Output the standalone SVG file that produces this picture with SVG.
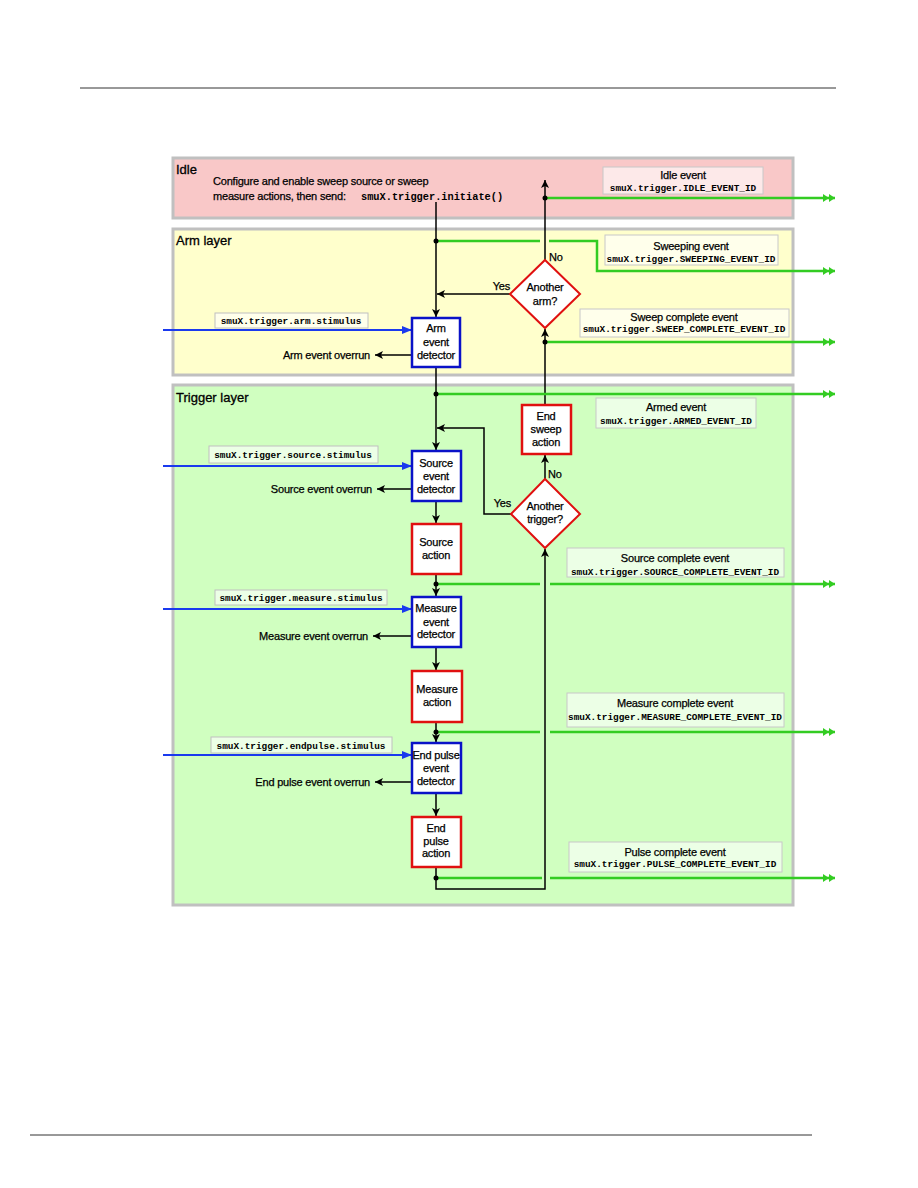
<svg xmlns="http://www.w3.org/2000/svg" width="918" height="1188" viewBox="0 0 918 1188">
<style>
.t{font-family:"Liberation Sans",Arial,sans-serif;font-size:11px;fill:#000;stroke:#000;stroke-width:0.25px;letter-spacing:-0.2px}
.c{text-anchor:middle}
.e{text-anchor:end}
.h{font-family:"Liberation Sans",Arial,sans-serif;font-size:13px;fill:#000;stroke:#000;stroke-width:0.3px}
.m{font-family:"Liberation Mono","Courier New",monospace;font-size:9.4px;font-weight:bold;fill:#000}
.panel{stroke:#c0c0c0;stroke-width:3}
.ev{fill:#fff;fill-opacity:0.6;stroke:#c8c8c8;stroke-width:1}
.lb{fill:#fff;fill-opacity:0.6;stroke:#c0c0c0;stroke-width:1}
.det{fill:#fff;stroke:#0a12c8;stroke-width:2.5}
.act{fill:#fff;stroke:#e01010;stroke-width:2.5}
.blk{fill:none;stroke:#000;stroke-width:1.5}
.grn{fill:none;stroke:#33cc22;stroke-width:2.5}
.blu{fill:none;stroke:#1a3aee;stroke-width:2}
</style>
<defs>
<marker id="ab" viewBox="0 0 8 8" refX="8" refY="4" markerWidth="8" markerHeight="8" markerUnits="userSpaceOnUse" orient="auto"><path d="M0,0 L8,4 L0,8 L2,4 Z" fill="#000"/></marker>
<marker id="ag" viewBox="0 0 12 8" refX="12" refY="4" markerWidth="12" markerHeight="8" markerUnits="userSpaceOnUse" orient="auto"><path d="M0,0 L6,4 L0,8 Z M6,0 L12,4 L6,8 Z" fill="#33cc22"/></marker>
<marker id="au" viewBox="0 0 10 8" refX="10" refY="4" markerWidth="10" markerHeight="8" markerUnits="userSpaceOnUse" orient="auto"><path d="M0,0 L10,4 L0,8 Z" fill="#1a3aee"/></marker>
</defs>
<rect width="918" height="1188" fill="#fff"/>
<line x1="80" y1="88" x2="836" y2="88" stroke="#333" stroke-width="1"/>
<line x1="30" y1="1135" x2="812" y2="1135" stroke="#333" stroke-width="1"/>

<g id="idle-layer">
<rect class="panel" x="173" y="158" width="620" height="60" fill="#f9c8c8"/>
<text class="h" x="176" y="174">Idle</text>
<text class="t" x="213" y="185">Configure and enable sweep source or sweep</text>
<text class="t" x="213" y="200">measure actions, then send:</text>
<text class="m" x="361" y="200" style="font-size:10.3px">smuX.trigger.initiate()</text>
</g>
<g id="arm-layer">
<rect class="panel" x="173" y="229" width="620" height="146" fill="#ffffcc"/>
<text class="h" x="176" y="245">Arm layer</text>
</g>
<g id="trigger-layer">
<rect class="panel" x="173" y="385" width="620" height="520" fill="#d0ffc0"/>
<text class="h" x="176" y="402">Trigger layer</text>
</g>

<g id="event-labels">
<g id="idle-event"><rect class="ev" x="603" y="167" width="160" height="27"/><text class="t c" x="683" y="179">Idle event</text><text class="m c" x="683" y="191">smuX.trigger.IDLE_EVENT_ID</text></g>
<g id="sweeping-event"><rect class="ev" x="605" y="235" width="173" height="30"/><text class="t c" x="691" y="250">Sweeping event</text><text class="m c" x="691" y="262">smuX.trigger.SWEEPING_EVENT_ID</text></g>
<g id="sweep-complete-event"><rect class="ev" x="580" y="309" width="209" height="28"/><text class="t c" x="684" y="321">Sweep complete event</text><text class="m c" x="684" y="332">smuX.trigger.SWEEP_COMPLETE_EVENT_ID</text></g>
<g id="armed-event"><rect class="ev" x="596" y="398" width="160" height="30"/><text class="t c" x="676" y="411">Armed event</text><text class="m c" x="676" y="424">smuX.trigger.ARMED_EVENT_ID</text></g>
<g id="source-complete-event"><rect class="ev" x="567" y="548" width="217" height="29"/><text class="t c" x="675" y="562">Source complete event</text><text class="m c" x="675" y="575">smuX.trigger.SOURCE_COMPLETE_EVENT_ID</text></g>
<g id="measure-complete-event"><rect class="ev" x="567" y="693" width="217" height="34"/><text class="t c" x="675" y="707">Measure complete event</text><text class="m c" x="675" y="720">smuX.trigger.MEASURE_COMPLETE_EVENT_ID</text></g>
<g id="pulse-complete-event"><rect class="ev" x="569" y="842" width="213" height="30"/><text class="t c" x="675" y="856">Pulse complete event</text><text class="m c" x="675" y="867">smuX.trigger.PULSE_COMPLETE_EVENT_ID</text></g>
</g>

<g id="stimulus-labels">
<g id="arm-stimulus"><rect class="lb" x="215" y="313" width="153" height="15"/><text class="m c" x="291" y="324">smuX.trigger.arm.stimulus</text></g>
<g id="source-stimulus"><rect class="lb" x="209" y="446" width="169" height="17"/><text class="m c" x="293" y="458">smuX.trigger.source.stimulus</text></g>
<g id="measure-stimulus"><rect class="lb" x="215" y="590" width="172" height="15"/><text class="m c" x="301" y="601">smuX.trigger.measure.stimulus</text></g>
<g id="endpulse-stimulus"><rect class="lb" x="211" y="737" width="181" height="16"/><text class="m c" x="301" y="749">smuX.trigger.endpulse.stimulus</text></g>
</g>

<g id="connectors">
<line class="grn" x1="545" y1="198" x2="835" y2="198" marker-end="url(#ag)"/>
<polyline class="grn" points="436,241 540,241"/>
<polyline class="grn" points="549,241 597,241 597,271 835,271" marker-end="url(#ag)"/>
<line class="grn" x1="545" y1="342" x2="835" y2="342" marker-end="url(#ag)"/>
<line class="grn" x1="436" y1="584" x2="540" y2="584"/>
<line class="grn" x1="550" y1="584" x2="835" y2="584" marker-end="url(#ag)"/>
<line class="grn" x1="436" y1="732" x2="540" y2="732"/>
<line class="grn" x1="550" y1="732" x2="835" y2="732" marker-end="url(#ag)"/>
<line class="grn" x1="436" y1="878" x2="542" y2="878"/>
<line class="grn" x1="550" y1="878" x2="835" y2="878" marker-end="url(#ag)"/>
<line class="blu" x1="163" y1="330" x2="412" y2="330" marker-end="url(#au)"/>
<line class="blu" x1="163" y1="466" x2="412" y2="466" marker-end="url(#au)"/>
<line class="blu" x1="163" y1="609" x2="412" y2="609" marker-end="url(#au)"/>
<line class="blu" x1="163" y1="755" x2="412" y2="755" marker-end="url(#au)"/>
<line class="blk" x1="436" y1="202" x2="436" y2="317" marker-end="url(#ab)"/>
<line class="blk" x1="510" y1="294" x2="437" y2="294" marker-end="url(#ab)"/>
<line class="blk" x1="545" y1="260" x2="545" y2="180" marker-end="url(#ab)"/>
<line class="blk" x1="545" y1="405" x2="545" y2="329" marker-end="url(#ab)"/>
<line class="blk" x1="436" y1="367" x2="436" y2="450" marker-end="url(#ab)"/>
<polyline class="blk" points="511,514 484,514 484,428 437,428" marker-end="url(#ab)"/>
<line class="blk" x1="545" y1="479" x2="545" y2="455" marker-end="url(#ab)"/>
<line class="blk" x1="436" y1="501" x2="436" y2="523" marker-end="url(#ab)"/>
<line class="blk" x1="436" y1="574" x2="436" y2="596" marker-end="url(#ab)"/>
<line class="blk" x1="436" y1="647" x2="436" y2="670" marker-end="url(#ab)"/>
<line class="blk" x1="436" y1="722" x2="436" y2="742" marker-end="url(#ab)"/>
<line class="blk" x1="436" y1="793" x2="436" y2="816" marker-end="url(#ab)"/>
<polyline class="blk" points="436,867 436,889 545,889 545,549" marker-end="url(#ab)"/>
<line class="blk" x1="412" y1="355" x2="375" y2="355" marker-end="url(#ab)"/>
<line class="blk" x1="412" y1="489" x2="377" y2="489" marker-end="url(#ab)"/>
<line class="blk" x1="412" y1="636" x2="373" y2="636" marker-end="url(#ab)"/>
<line class="blk" x1="412" y1="782" x2="375" y2="782" marker-end="url(#ab)"/>
<line class="grn" x1="436" y1="394" x2="835" y2="394" marker-end="url(#ag)"/>
<g fill="#000">
<circle cx="545" cy="198" r="2.5"/><circle cx="436" cy="241" r="2.5"/><circle cx="545" cy="342" r="2.5"/>
<circle cx="436" cy="394" r="2.5"/><circle cx="436" cy="584" r="2.5"/><circle cx="436" cy="732" r="2.5"/><circle cx="436" cy="878" r="2.5"/>
</g>
<text class="t" x="549" y="261">No</text>
<text class="t e" x="510" y="290">Yes</text>
<text class="t" x="548" y="478">No</text>
<text class="t e" x="511" y="507">Yes</text>
<text class="t e" x="370" y="359">Arm event overrun</text>
<text class="t e" x="372" y="493">Source event overrun</text>
<text class="t e" x="368" y="640">Measure event overrun</text>
<text class="t e" x="370" y="786">End pulse event overrun</text>
</g>

<g id="arm-event-detector"><rect class="det" x="412" y="318" width="48" height="49"/><text class="t c" x="436" y="332">Arm</text><text class="t c" x="436" y="346">event</text><text class="t c" x="436" y="359">detector</text></g>
<g id="another-arm"><polygon points="545,260 580,294 545,328 510,294" fill="#fff" stroke="#e01010" stroke-width="2"/><text class="t c" x="545" y="291">Another</text><text class="t c" x="545" y="305">arm?</text></g>
<g id="end-sweep-action"><rect class="act" x="522" y="405" width="49" height="49"/><text class="t c" x="546" y="420">End</text><text class="t c" x="546" y="433">sweep</text><text class="t c" x="546" y="446">action</text></g>
<g id="another-trigger"><polygon points="545,479 580,514 545,548 511,514" fill="#fff" stroke="#e01010" stroke-width="2"/><text class="t c" x="545" y="510">Another</text><text class="t c" x="545" y="523">trigger?</text></g>
<g id="source-event-detector"><rect class="det" x="412" y="451" width="49" height="50"/><text class="t c" x="436" y="467">Source</text><text class="t c" x="436" y="480">event</text><text class="t c" x="436" y="493">detector</text></g>
<g id="source-action"><rect class="act" x="412" y="524" width="49" height="50"/><text class="t c" x="436" y="546">Source</text><text class="t c" x="436" y="559">action</text></g>
<g id="measure-event-detector"><rect class="det" x="412" y="597" width="49" height="50"/><text class="t c" x="436" y="612">Measure</text><text class="t c" x="436" y="626">event</text><text class="t c" x="436" y="638">detector</text></g>
<g id="measure-action"><rect class="act" x="412" y="671" width="50" height="51"/><text class="t c" x="437" y="693">Measure</text><text class="t c" x="437" y="706">action</text></g>
<g id="end-pulse-event-detector"><rect class="det" x="412" y="743" width="49" height="50"/><text class="t c" x="436" y="759">End pulse</text><text class="t c" x="436" y="772">event</text><text class="t c" x="436" y="785">detector</text></g>
<g id="end-pulse-action"><rect class="act" x="412" y="817" width="49" height="50"/><text class="t c" x="436" y="832">End</text><text class="t c" x="436" y="845">pulse</text><text class="t c" x="436" y="857">action</text></g>
</svg>
